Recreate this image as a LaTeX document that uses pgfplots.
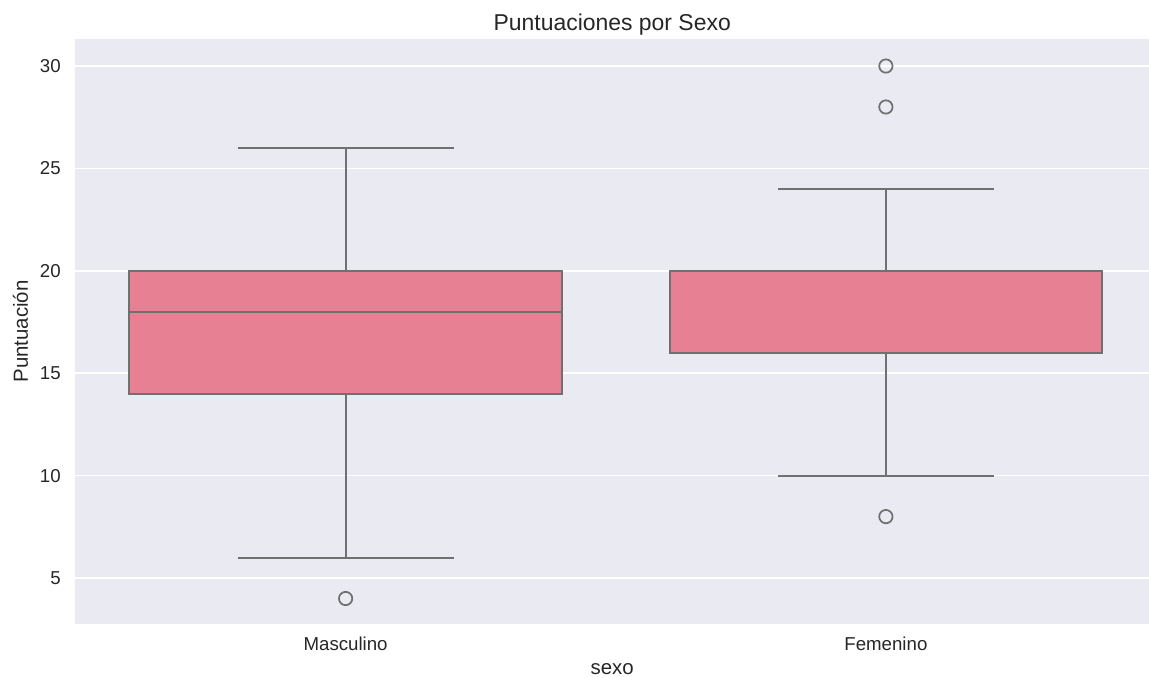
\documentclass[border=0pt]{standalone}
\usepackage{pgfplots}
\pgfplotsset{compat=1.18}
\usetikzlibrary{calc}
\usepackage{fontspec}
\setmainfont{Liberation Sans}
\definecolor{bgc}{RGB}{234,234,242}
\definecolor{boxc}{RGB}{230,128,146}
\definecolor{linec}{RGB}{112,112,112}
\definecolor{txtc}{RGB}{38,38,38}
\begin{document}
\begin{tikzpicture}
\begin{axis}[
  name=ax,
  scale only axis,
  width=805.1pt, height=438.75pt,
  xmin=-0.5, xmax=1.487,
  ymin=2.754, ymax=31.32,
  axis background/.style={fill=bgc},
  axis line style={draw=none},
  major tick length=0pt,
  xtick={0,1}, xticklabels={Masculino,Femenino},
  ytick={5,10,15,20,25,30},
  ymajorgrids,
  grid style={white, line width=1.2pt},
  /pgf/number format/assume math mode=true,
  tick label style={font=\fontsize{14}{16}\selectfont, text=txtc},
  xticklabel style={anchor=base, inner sep=0pt, yshift=-19.5pt},
  yticklabel style={anchor=east, inner sep=0pt, xshift=-10.9pt},
  title={Puntuaciones por Sexo},
  title style={font=\fontsize{17.2}{19}\selectfont, text=txtc, at={(0.5,1)}, anchor=base, yshift=0pt},
  xlabel={sexo},
  xlabel style={font=\fontsize{15.3}{17}\selectfont, text=txtc, at={(axis description cs:0.5,0)}, anchor=base, yshift=-37.5pt},
  ylabel={Puntuación},
  ylabel style={font=\fontsize{15.3}{17}\selectfont, text=txtc, at={([xshift=-35.6pt]axis description cs:0,0.5)}, anchor=base, rotate=0},
  every axis plot/.append style={line width=1.5pt, draw=linec},
]
% --- Masculino (x = 0): whiskers 6 / 26, box 14-20, median 18, outlier 4
\addplot[mark=none, line width=1.5pt] coordinates {(0,20) (0,26)};
\addplot[mark=none, line width=1.5pt] coordinates {(0,14) (0,6)};
\addplot[mark=none, fill=boxc, line width=1.5pt] coordinates {(-0.4,14) (0.4,14) (0.4,20) (-0.4,20)} -- cycle;
\addplot[mark=none, line width=1.5pt] coordinates {(-0.4,18) (0.4,18)};
\addplot[mark=none, line width=1.5pt] coordinates {(-0.2,26) (0.2,26)};
\addplot[mark=none, line width=1.5pt] coordinates {(-0.2,6) (0.2,6)};
\addplot[only marks, mark=o, mark size=5pt, mark options={draw=linec, fill=none, line width=1.3pt}] coordinates {(0,4)};
% --- Femenino (x = 1): whiskers 10 / 24, box 16-20, median 20, outliers 8, 28, 30
\addplot[mark=none, line width=1.5pt] coordinates {(1,20) (1,24)};
\addplot[mark=none, line width=1.5pt] coordinates {(1,16) (1,10)};
\addplot[mark=none, fill=boxc, line width=1.5pt] coordinates {(0.6,16) (1.4,16) (1.4,20) (0.6,20)} -- cycle;
\addplot[mark=none, line width=1.5pt] coordinates {(0.6,20) (1.4,20)};
\addplot[mark=none, line width=1.5pt] coordinates {(0.8,24) (1.2,24)};
\addplot[mark=none, line width=1.5pt] coordinates {(0.8,10) (1.2,10)};
\addplot[only marks, mark=o, mark size=5pt, mark options={draw=linec, fill=none, line width=1.3pt}] coordinates {(1,8) (1,28) (1,30)};
\end{axis}
\pgfresetboundingbox
\path ($(ax.south west)+(-56.6pt,-39.75pt)$) rectangle ($(ax.north east)+(0pt,29.25pt)$);
\end{tikzpicture}
\end{document}
